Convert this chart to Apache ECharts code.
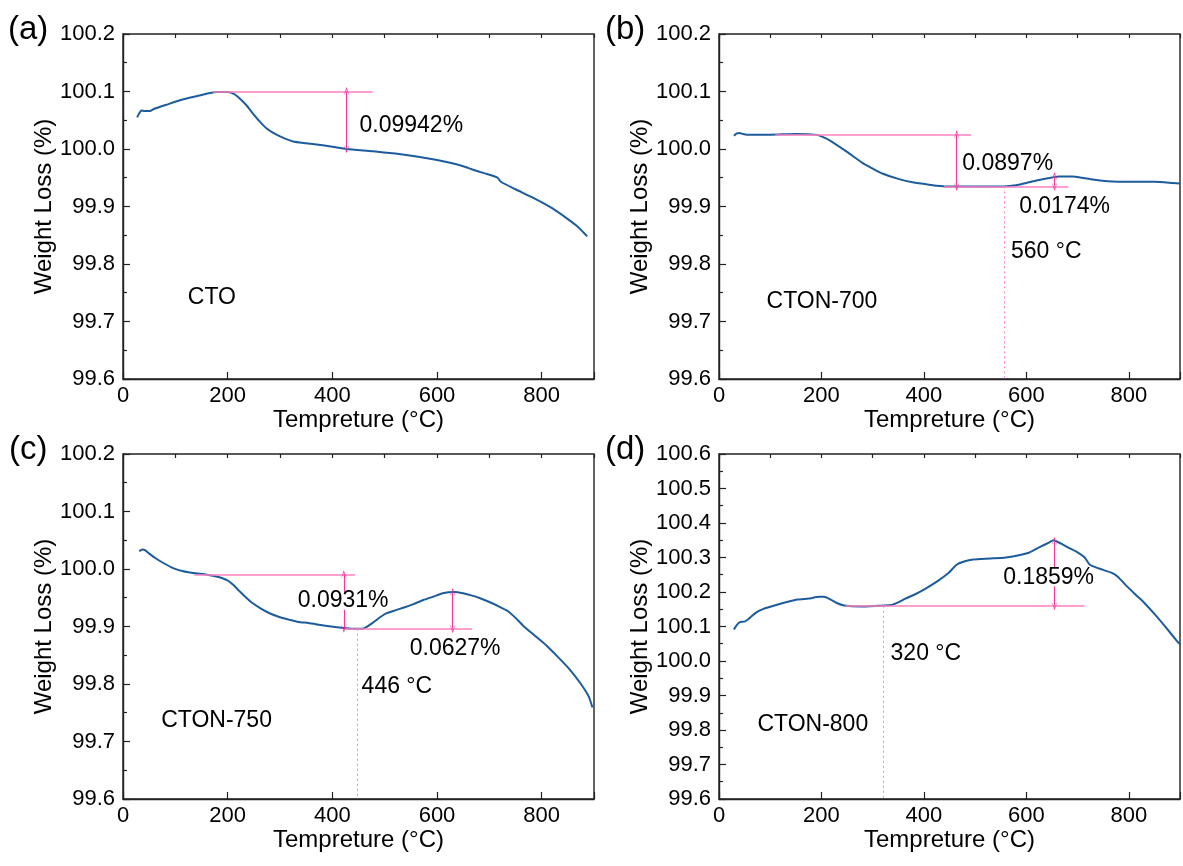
<!DOCTYPE html>
<html><head><meta charset="utf-8">
<script src="https://cdn.jsdelivr.net/npm/echarts@6/dist/echarts.min.js"></script>
<style>html,body{margin:0;padding:0;background:#fff}#c{width:1183px;height:866px}</style>
</head><body><div id="c"></div>
<script>
// ---- data: [temperature (°C), weight (%)] ----
const curveA = [[27,100.055],[31,100.062],[35,100.067],[42,100.066],[51,100.066],[60,100.070],[83,100.077],[114,100.086],[146,100.093],[178,100.099],[200,100.099],[212,100.096],[223,100.088],[235,100.077],[248,100.062],[261,100.048],[274,100.036],[287,100.028],[300,100.022],[325,100.013],[350,100.010],[370,100.008],[400,100.004],[427,100.000],[478,99.996],[520,99.992],[561,99.987],[600,99.981],[625,99.976],[650,99.970],[669,99.964],[690,99.958],[705,99.954],[716,99.950],[722,99.943],[750,99.930],[784,99.915],[820,99.897],[850,99.878],[870,99.864],[887,99.848]];
const curveB = [[29,100.023],[35,100.027],[40,100.028],[47,100.026],[55,100.025],[100,100.025],[150,100.026],[187,100.025],[200,100.022],[220,100.013],[250,99.995],[280,99.976],[300,99.966],[320,99.957],[350,99.948],[378,99.942],[410,99.938],[441,99.935],[500,99.935],[556,99.935],[580,99.937],[600,99.941],[630,99.947],[664,99.952],[690,99.952],[708,99.950],[730,99.947],[759,99.944],[800,99.943],[850,99.943],[886,99.941],[900,99.940]];
const curveC = [[31,100.031],[37,100.034],[42,100.033],[50,100.027],[60,100.020],[78,100.010],[97,100.001],[115,99.996],[134,99.993],[160,99.990],[178,99.987],[190,99.984],[200,99.980],[211,99.972],[222,99.962],[233,99.952],[244,99.943],[262,99.932],[280,99.923],[300,99.916],[317,99.912],[335,99.908],[354,99.906],[390,99.901],[427,99.897],[445,99.896],[457,99.896],[465,99.899],[475,99.905],[488,99.914],[501,99.922],[520,99.928],[537,99.933],[555,99.939],[574,99.946],[593,99.952],[611,99.958],[633,99.960],[650,99.958],[662,99.955],[680,99.950],[699,99.943],[718,99.935],[735,99.927],[750,99.915],[765,99.901],[787,99.884],[809,99.867],[830,99.848],[853,99.826],[875,99.800],[890,99.778],[897,99.759]];
const curveD = [[29,100.091],[35,100.105],[40,100.112],[51,100.115],[60,100.125],[73,100.141],[87,100.151],[102,100.158],[125,100.168],[153,100.178],[175,100.181],[196,100.186],[205,100.186],[218,100.178],[230,100.168],[244,100.161],[276,100.158],[310,100.160],[336,100.162],[350,100.170],[364,100.181],[381,100.192],[400,100.207],[426,100.231],[448,100.255],[464,100.279],[480,100.289],[496,100.294],[530,100.297],[560,100.300],[605,100.314],[626,100.330],[645,100.344],[653,100.350],[668,100.340],[683,100.328],[700,100.315],[714,100.300],[724,100.279],[742,100.268],[766,100.256],[778,100.245],[796,100.217],[815,100.190],[830,100.169],[851,100.135],[872,100.098],[893,100.060],[900,100.048]];

const panelLetters = ['(a)','(b)','(c)','(d)'];
const yRanges = [[99.6,100.2],[99.6,100.2],[99.6,100.2],[99.6,100.6]];
const xRange = [0,900];
const xTitle = 'Tempreture (°C)';
const yTitle = 'Weight Loss (%)';

// annotation lines: [T1, T2, level]
const hLinesA = [[172,477,100.1]];
const hLinesB = [[110,492,100.025],[439,682,99.935]];
const hLinesC = [[137,443,99.990],[424,667,99.896]];
const hLinesD = [[247,714,100.160]];
// double arrows: [T, from, to]
const arrowsA = [[427,100.1,100.0006]];
const arrowsB = [[464,100.025,99.935],[655,99.935,99.952]];
const arrowsC = [[422,99.990,99.897],[630,99.896,99.959]];
const arrowsD = [[655,100.160,100.347]];
// dashed drop lines: [T, level]
const dashA = [];
const dashB = [[557,99.935]];
const dashC = [[447,99.896]];
const dashD = [[321,100.160]];
// texts: [T, level, text]
const textsA = [[450,100.040,'0.09942%'],[122,99.741,'CTO']];
const textsB = [[473,99.975,'0.0897%'],[584,99.900,'0.0174%'],[568,99.822,'560 °C'],[91,99.735,'CTON-700']];
const textsC = [[332,99.945,'0.0931%'],[546,99.861,'0.0627%'],[454,99.795,'446 °C'],[71,99.737,'CTON-750']];
const textsD = [[553,100.243,'0.1859%'],[333,100.021,'320 °C'],[73,99.815,'CTON-800']];

const curves = [curveA, curveB, curveC, curveD];
const hLines = [hLinesA, hLinesB, hLinesC, hLinesD];
const arrows = [arrowsA, arrowsB, arrowsC, arrowsD];
const dashes = [dashA, dashB, dashC, dashD];
const texts = [textsA, textsB, textsC, textsD];

// ---- layout ----
const FONT = 'Liberation Sans, Arial, Helvetica, sans-serif';
const grids = [
  {left:123, top:34, width:471, height:345},
  {left:719, top:34, width:471, height:345},
  {left:123, top:454, width:471, height:345},
  {left:719, top:454, width:471, height:345}
];
const letterPos = [[8,31],[605,31],[9,451],[605,451]];

const BLUE = '#1d5c9c', PINK = '#ff80c0', DPINK = '#f7359a';
const arrowSym = 'path://M0,10 L5,0 L10,10 L5,3 Z';

const option = {animation:false, backgroundColor:'#fff', grid:[], xAxis:[], yAxis:[], series:[], graphic:[]};

function markSeries(i, data, lineStyle, z){
  return {
    type:'line', xAxisIndex:2*i, yAxisIndex:i, data:[], z:z, silent:true,
    markLine:{z:z, silent:true, animation:false, symbol:'none', label:{show:false},
      emphasis:{disabled:true}, lineStyle:lineStyle, data:data}
  };
}

for (let i=0;i<4;i++){
  option.grid.push(Object.assign({show:true, borderColor:'#222', borderWidth:1.4, backgroundColor:'transparent'}, grids[i]));
  option.xAxis.push({
    type:'value', gridIndex:i, min:xRange[0], max:xRange[1], interval:200,
    axisLine:{show:true, lineStyle:{color:'#222', width:1.4}},
    axisTick:{show:true, inside:true, length:7, lineStyle:{color:'#222', width:1.2}},
    axisLabel:{color:'#000', fontSize:22, fontFamily:FONT, margin:6, formatter:v => (v%200===0 ? String(v) : '')},
    splitLine:{show:false},
    name:xTitle, nameLocation:'middle', nameGap:29,
    nameTextStyle:{color:'#000', fontSize:24, fontFamily:FONT}
  });
  option.xAxis.push({
    type:'value', gridIndex:i, min:xRange[0], max:xRange[1], interval:100,
    axisLine:{show:false}, axisLabel:{show:false}, splitLine:{show:false},
    axisTick:{show:true, inside:true, length:4, lineStyle:{color:'#222', width:1.2}}
  });
  option.yAxis.push({
    type:'value', gridIndex:i, min:yRanges[i][0], max:yRanges[i][1], interval:0.1,
    axisLine:{show:true, lineStyle:{color:'#222', width:1.4}},
    axisTick:{show:true, inside:true, length:7, lineStyle:{color:'#222', width:1.2}},
    minorTick:{show:true, splitNumber:2, length:4, lineStyle:{color:'#222', width:1.2}},
    axisLabel:{color:'#000', fontSize:22, fontFamily:FONT, margin:8, formatter:v => v.toFixed(1)},
    splitLine:{show:false},
    name:yTitle, nameLocation:'middle', nameGap:64,
    nameTextStyle:{color:'#000', fontSize:24, fontFamily:FONT}
  });

  option.series.push({
    type:'line', xAxisIndex:2*i, yAxisIndex:i, data:curves[i], showSymbol:false, smooth:0.2,
    lineStyle:{color:BLUE, width:2}, z:2, silent:true
  });
  option.series.push(markSeries(i,
    hLines[i].map(h => [{coord:[h[0],h[2]]},{coord:[h[1],h[2]]}]),
    {color:PINK, width:1.6, type:'solid'}, 3));
  option.series.push(markSeries(i,
    dashes[i].map(d => [{coord:[d[0],d[1]]},{coord:[d[0],yRanges[i][0]]}]),
    {color:PINK, width:1, type:[2,3]}, 3));
  const arr = markSeries(i,
    arrows[i].map(a => [{coord:[a[0],a[1]]},{coord:[a[0],a[2]]}]),
    {color:DPINK, width:1.1, type:'solid'}, 3);
  arr.markLine.symbol = [arrowSym, arrowSym];
  arr.markLine.symbolSize = [6,9];
  arr.markLine.itemStyle = {color:DPINK};
  option.series.push(arr);

  option.series.push({
    type:'scatter', xAxisIndex:2*i, yAxisIndex:i, symbolSize:0, silent:true, z:6,
    itemStyle:{color:'#000', opacity:1},
    data:texts[i].map(t => ({value:[t[0],t[1]], name:t[2]})),
    label:{show:true, position:'right', distance:0, formatter:'{b}', color:'#000', opacity:1,
      textBorderWidth:0, textShadowBlur:0, fontSize:23, fontFamily:FONT, lineHeight:18,
      backgroundColor:'#fff', padding:[0,1]}
  });
  option.graphic.push({
    type:'text', left:letterPos[i][0], top:letterPos[i][1]-18,
    style:{text:panelLetters[i], fill:'#000', font:'33px ' + FONT}
  });
}

const chart = echarts.init(document.getElementById('c'), null, {renderer:'canvas'});
chart.setOption(option);
</script></body></html>
